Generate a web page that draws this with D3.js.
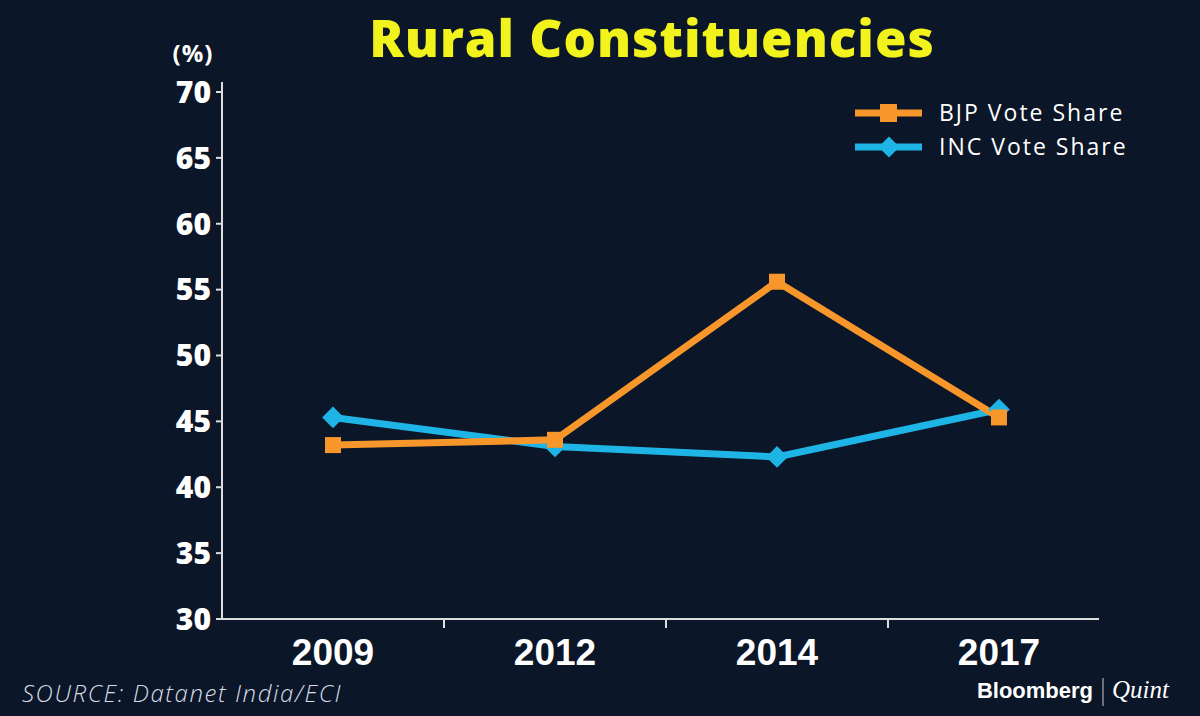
<!DOCTYPE html>
<html><head><meta charset="utf-8">
<script src="https://cdn.jsdelivr.net/npm/d3@7"></script>
<style>body{margin:0;background:#0b1628;}</style></head>
<body><svg id="c" width="1200" height="716"></svg>
<script>
const years = ["2009","2012","2014","2017"];
const bjp = [43.2, 43.6, 55.6, 45.3];
const inc = [45.3, 43.1, 42.3, 45.9];
const yTicks = [30,35,40,45,50,55,60,65,70];

const svg = d3.select("#c");
svg.append("rect").attr("width",1200).attr("height",716).attr("fill","#0b1628");
const x = d3.scaleBand().domain(years).range([222,1110]);
const y = d3.scaleLinear().domain([30,70]).range([619,92]);

svg.append("text").attr("x",652).attr("y",57).attr("text-anchor","middle")
  .attr("fill","#f2f21c").attr("font-family","Open Sans, sans-serif").attr("font-weight",800)
  .attr("font-size",51).attr("letter-spacing",1).text("Rural Constituencies");
svg.append("text").attr("x",193).attr("y",62).attr("text-anchor","middle")
  .attr("fill","#fff").attr("font-family","Open Sans, sans-serif").attr("font-weight",700)
  .attr("font-size",24).attr("letter-spacing",1).text("(%)");

svg.append("line").attr("x1",222).attr("x2",222).attr("y1",82).attr("y2",619).attr("stroke","#ddd").attr("stroke-width",2);
yTicks.forEach(t=>{
  svg.append("line").attr("x1",216).attr("x2",222).attr("y1",y(t)).attr("y2",y(t)).attr("stroke","#ddd").attr("stroke-width",2);
  svg.append("text").attr("x",211).attr("y",y(t)).attr("dy","0.36em").attr("text-anchor","end")
    .attr("fill","#fff").attr("font-family","Open Sans, sans-serif").attr("font-weight",800).attr("font-size",30).text(t);
});
svg.append("line").attr("x1",222).attr("x2",1099).attr("y1",619).attr("y2",619).attr("stroke","#ddd").attr("stroke-width",2);
years.slice(1).forEach(d=>{
  svg.append("line").attr("x1",x(d)).attr("x2",x(d)).attr("y1",619).attr("y2",628).attr("stroke","#ddd").attr("stroke-width",2);
});
years.forEach(d=>{
  svg.append("text").attr("x",x(d)+x.bandwidth()/2).attr("y",665).attr("text-anchor","middle")
    .attr("fill","#fff").attr("font-family","Liberation Sans Narrow, Arial Narrow, sans-serif").attr("font-weight",700)
    .attr("font-size",37).text(d);
});

const cx = d=>x(d)+x.bandwidth()/2;
const line = d3.line().x((v,i)=>cx(years[i])).y(v=>y(v));
svg.append("path").attr("d",line(inc)).attr("fill","none").attr("stroke","#1eb4e6").attr("stroke-width",7);
svg.append("path").attr("d",line(bjp)).attr("fill","none").attr("stroke","#f7962a").attr("stroke-width",7);
inc.forEach((v,i)=>{
  svg.append("path").attr("d",d3.symbol(d3.symbolDiamond2,300)()).attr("transform",`translate(${cx(years[i])},${y(v)})`).attr("fill","#1eb4e6");
});
bjp.forEach((v,i)=>{
  svg.append("rect").attr("x",cx(years[i])-8).attr("y",y(v)-8).attr("width",16).attr("height",16).attr("fill","#f7962a");
});

const lg = [["BJP Vote Share","#f7962a","sq",113],["INC Vote Share","#1eb4e6","dm",147]];
lg.forEach(([t,c,s,yy])=>{
  svg.append("line").attr("x1",855).attr("x2",922).attr("y1",yy).attr("y2",yy).attr("stroke",c).attr("stroke-width",7);
  if(s==="sq") svg.append("rect").attr("x",880).attr("y",yy-9).attr("width",17).attr("height",18).attr("fill",c);
  else svg.append("path").attr("d",d3.symbol(d3.symbolDiamond2,280)()).attr("transform",`translate(889,${yy})`).attr("fill",c);
  svg.append("text").attr("x",939).attr("y",yy).attr("dy","0.35em").attr("fill","#fff")
    .attr("font-family","Open Sans, sans-serif").attr("font-weight",500).attr("font-size",23).attr("letter-spacing",2).text(t);
});

svg.append("text").attr("x",22).attr("y",702).attr("fill","#d8dce4").attr("font-family","Open Sans, sans-serif")
  .attr("font-style","italic").attr("font-weight",300).attr("font-size",24).attr("letter-spacing",1.6).text("SOURCE: Datanet India/ECI");
svg.append("text").attr("x",1093).attr("y",698).attr("text-anchor","end").attr("fill","#fff")
  .attr("font-family","Liberation Sans Narrow, sans-serif").attr("font-weight",700).attr("font-size",22).text("Bloomberg");
svg.append("line").attr("x1",1103).attr("x2",1103).attr("y1",678).attr("y2",706).attr("stroke","#ccc").attr("stroke-width",1);
svg.append("text").attr("x",1112).attr("y",698).attr("fill","#fff")
  .attr("font-family","Liberation Serif, serif").attr("font-style","italic").attr("font-size",25).text("Quint");
</script></body></html>
